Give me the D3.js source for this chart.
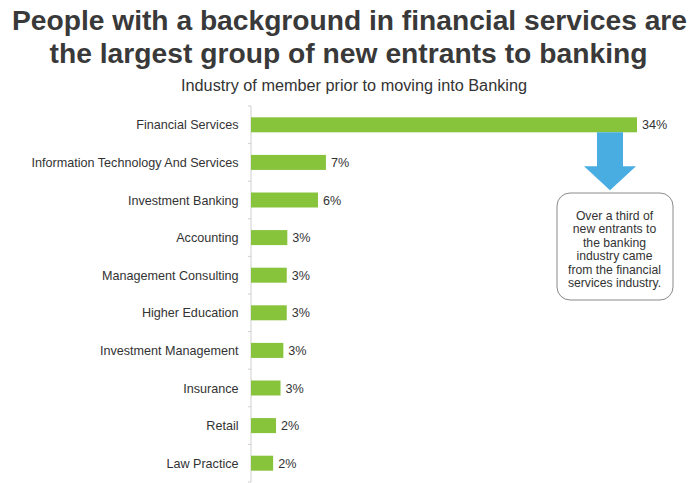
<!DOCTYPE html>
<html><head><meta charset="utf-8">
<script src="https://cdn.jsdelivr.net/npm/d3@7"></script>
<style>body{margin:0;background:#fff}svg{display:block}</style>
</head><body>
<svg id="c" width="699" height="483"></svg>
<script>
const categories = ["Financial Services","Information Technology And Services","Investment Banking","Accounting","Management Consulting","Higher Education","Investment Management","Insurance","Retail","Law Practice"];
const values = [34, 6.6, 5.9, 3.2, 3.15, 3.15, 2.85, 2.6, 2.2, 1.95];
const valueLabels = ["34%","7%","6%","3%","3%","3%","3%","3%","2%","2%"];
const titleLines = ["People with a background in financial services are","the largest group of new entrants to banking"];
const subtitle = "Industry of member prior to moving into Banking";
const noteLines = ["Over a third of","new entrants to","the banking","industry came","from the financial","services industry."];

const svg = d3.select("#c");
const font = "Liberation Sans, Arial, sans-serif";

const titleLayout = [{x:349.5,y:29.5,w:675},{x:348.5,y:63,w:598}];
svg.selectAll("text.title").data(titleLines).join("text")
  .attr("class","title").attr("x",(d,i)=>titleLayout[i].x).attr("y",(d,i)=>titleLayout[i].y)
  .attr("text-anchor","middle").attr("font-family",font).attr("font-weight","bold")
  .attr("font-size",27).attr("fill","#393939")
  .attr("textLength",(d,i)=>titleLayout[i].w).attr("lengthAdjust","spacingAndGlyphs").text(d=>d);

svg.append("text").attr("x",354).attr("y",91).attr("text-anchor","middle")
  .attr("font-family","Liberation Sans Narrow, Arial Narrow, "+font).attr("font-size",16)
  .attr("fill","#333").attr("textLength",346).attr("lengthAdjust","spacingAndGlyphs").text(subtitle);

const x = d3.scaleLinear().domain([0,34]).range([251,637]);
const y = d3.scaleBand().domain(categories).range([106,482]).paddingInner(0.6).paddingOuter(0.3);

// axis line and ticks
const g = svg.append("g");
g.append("line").attr("x1",251).attr("x2",251).attr("y1",106).attr("y2",482).attr("stroke","#cfcfcf").attr("stroke-width",1);
const bounds = d3.range(categories.length+1).map(i=>106+i*(376/categories.length));
g.selectAll("line.tk").data(bounds).join("line").attr("class","tk")
  .attr("x1",248).attr("x2",251).attr("y1",d=>d).attr("y2",d=>d).attr("stroke","#cfcfcf");

const bh = 15;
svg.selectAll("rect.bar").data(categories).join("rect").attr("class","bar")
  .attr("x",x(0)).attr("y",(d)=>y(d)+y.bandwidth()/2-bh/2)
  .attr("width",(d,i)=>x(values[i])-x(0)).attr("height",bh).attr("fill","#88c33c");

svg.selectAll("text.cat").data(categories).join("text").attr("class","cat")
  .attr("x",238.5).attr("y",d=>y(d)+y.bandwidth()/2+4.5).attr("text-anchor","end")
  .attr("font-family",font).attr("font-size",12.6).attr("fill","#333").text(d=>d);

svg.selectAll("text.val").data(categories).join("text").attr("class","val")
  .attr("x",(d,i)=>x(values[i])+5).attr("y",d=>y(d)+y.bandwidth()/2+4.5)
  .attr("font-family",font).attr("font-size",12.6).attr("fill","#333").text((d,i)=>valueLabels[i]);

// arrow
const yb = y(categories[0])+y.bandwidth()/2+bh/2;
const ax = 610;
svg.append("path").attr("fill","#4aade2")
  .attr("d",`M${ax-13},${yb} L${ax+13},${yb} L${ax+13},${yb+34} L${ax+26},${yb+34} L${ax},${yb+58} L${ax-26},${yb+34} L${ax-13},${yb+34} Z`);

// note box
svg.append("rect").attr("x",557).attr("y",193).attr("width",116).attr("height",107).attr("rx",13)
  .attr("fill","#fff").attr("stroke","#8a8a8a").attr("stroke-width",1);
svg.selectAll("text.note").data(noteLines).join("text").attr("class","note")
  .attr("x",614.5).attr("y",(d,i)=>220+i*13.4).attr("text-anchor","middle")
  .attr("font-family",font).attr("font-size",12.2).attr("fill","#333").text(d=>d);
</script>
</body></html>
